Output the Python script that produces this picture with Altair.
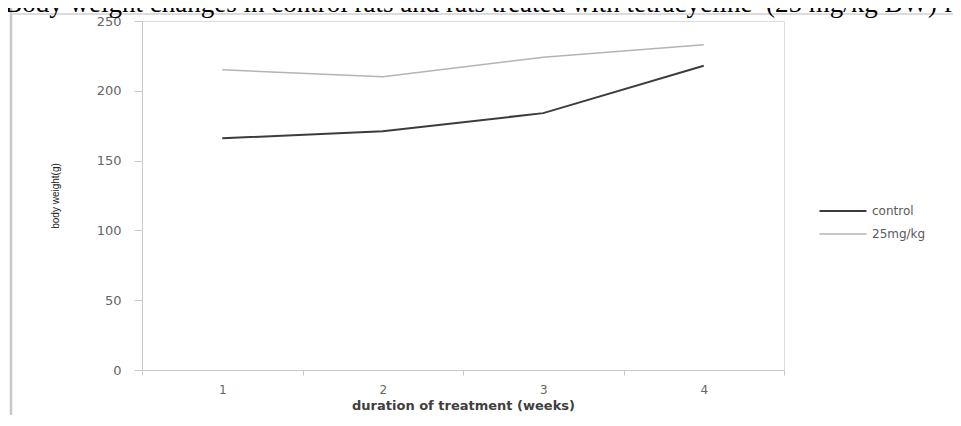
import altair as alt
import pandas as pd

weeks = ["1", "2", "3", "4"]
control = [166, 171, 184, 218]
treated = [215, 210, 224, 233]
series_names = ["control", "25mg/kg"]
series_colors = ["#3c3c3c", "#b4b4b4"]
series_widths = [2.0, 1.5]
y_ticks = [0, 50, 100, 150, 200, 250]
title_text = "t.Body weight changes in control rats and rats treated with tetracycline\u00a0 (25 mg/kg BW) f"
x_title = "duration of treatment (weeks)"
y_title = "body weight(g)"

rows = []
for s, vals in zip(series_names, [control, treated]):
    for w, v in zip(weeks, vals):
        rows.append({"week": w, "weight": v, "series": s})
df = pd.DataFrame(rows)

W, H = 642, 349

lines = alt.Chart(df).mark_line().encode(
    x=alt.X(
        "week:O",
        sort=weeks,
        bandPosition=0.5,
        scale=alt.Scale(type="band", paddingInner=0, paddingOuter=0),
        axis=alt.Axis(
            title=x_title,
            labelAngle=0,
            domainColor="#c8c8c8",
            tickColor="#c8c8c8",
            tickSize=5,
            tickBand="extent",
            labelPadding=9,
            labelFont="DejaVu Sans",
            labelFontSize=12,
            labelColor="#666666",
            titleFont="DejaVu Sans",
            titleFontSize=13,
            titleFontWeight="bold",
            titleColor="#404040",
            titlePadding=4,
            grid=False,
        ),
    ),
    y=alt.Y(
        "weight:Q",
        scale=alt.Scale(domain=[0, 250]),
        axis=alt.Axis(
            title=y_title,
            values=y_ticks,
            domainColor="#c8c8c8",
            tickColor="#c8c8c8",
            tickSize=8,
            labelPadding=13,
            labelFont="DejaVu Sans",
            labelFontSize=13,
            labelColor="#666666",
            titleFont="Liberation Sans",
            titleFontSize=10,
            titleFontWeight="normal",
            titleColor="#222222",
            titlePadding=36,
            grid=False,
        ),
    ),
    color=alt.Color(
        "series:N",
        sort=series_names,
        scale=alt.Scale(domain=series_names, range=series_colors),
        legend=alt.Legend(
            title=None,
            orient="none",
            legendX=694,
            legendY=183,
            symbolType="M-4,0H4",
            symbolSize=138,
            symbolStrokeWidth=2,
            labelFont="DejaVu Sans",
            labelFontSize=12,
            labelColor="#595959",
            labelOffset=22,
            rowPadding=10,
            padding=0,
        ),
    ),
    strokeWidth=alt.StrokeWidth(
        "series:N",
        scale=alt.Scale(domain=series_names, range=series_widths),
        legend=None,
    ),
)

deco = alt.Data(values=[{"k": 1}])

left_frame = alt.Chart(deco).mark_rule(color="#c8c8c8", strokeWidth=2.5).encode(
    x=alt.value(-131), y=alt.value(-13), y2=alt.value(420)
)
top_frame = alt.Chart(deco).mark_rule(color="#d0d0d0", strokeWidth=1.5).encode(
    x=alt.value(-131), x2=alt.value(820), y=alt.value(-7)
)
title = alt.Chart(deco).mark_text(
    text=title_text,
    font="Liberation Serif",
    fontSize=27,
    align="left",
    baseline="alphabetic",
    color="#000000",
).encode(x=alt.value(-152), y=alt.value(-9))

chart = alt.layer(left_frame, top_frame, lines, title).properties(
    width=W,
    height=H,
    autosize=alt.AutoSizeParams(type="none"),
    padding={"left": 134, "top": 13, "right": 169, "bottom": 45},
).configure_view(stroke=None).configure(background="white")

chart.save("out.html", embed_options={"renderer": "svg", "actions": False})
